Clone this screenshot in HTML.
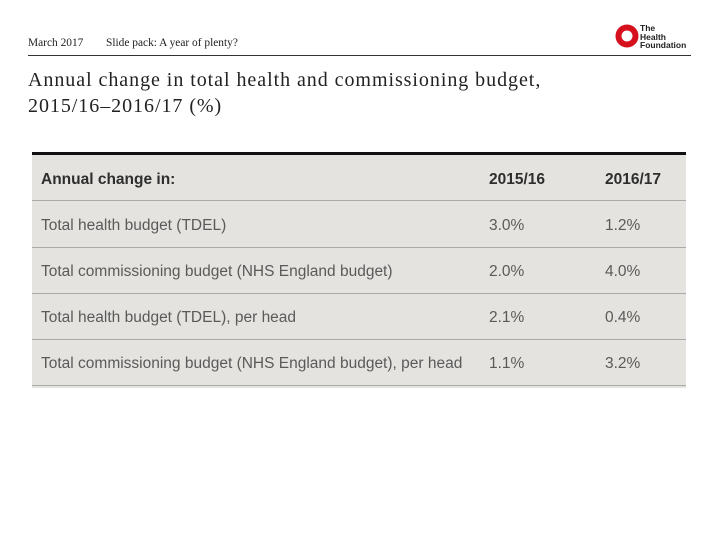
<!DOCTYPE html>
<html><head><meta charset="utf-8"><style>
body{margin:0;width:720px;height:540px;background:#fff;position:relative;overflow:hidden;font-family:"Liberation Sans",sans-serif}
.hdr{position:absolute;top:37px;font-family:"Liberation Serif",serif;font-size:11.4px;color:#222}
.title{position:absolute;left:28px;top:67px;font-family:"Liberation Serif",serif;font-size:20px;line-height:26px;letter-spacing:0.95px;color:#222}
.rule{position:absolute;left:28px;top:55px;width:663px;height:1px;background:#333}
.table{position:absolute;left:32px;top:152px;width:654px;height:233px;background:#e4e3df;border-top:3px solid #111}
.row{position:absolute;left:0;width:654px;height:46px;border-bottom:1.5px solid #a9a9a7;font-size:15.5px;color:#5a5a5a}
.row span{position:absolute;top:16px}
.row.h{color:#2e2e2e;font-weight:bold}
.c0{left:9px}.c1{left:457px}.c2{left:573px}
</style></head><body>
<div class="hdr" style="left:28px">March 2017</div>
<div class="hdr" style="left:106px">Slide pack: A year of plenty?</div>
<div style="position:absolute;left:615px;top:24px;width:90px;height:26px">
<svg width="26" height="26" style="position:absolute;left:0;top:0"><circle cx="12" cy="12" r="8.5" fill="none" stroke="#d7101e" stroke-width="6"/></svg>
<div style="position:absolute;left:25px;top:0;font-size:8.5px;line-height:8.5px;font-weight:bold;color:#222">The<br>Health<br>Foundation</div>
</div>
<div class="rule"></div>
<div class="title">Annual change in total health and commissioning budget,<br>2015/16–2016/17 (%)</div>
<div class="table">
<div class="row h" style="top:0;height:45px"><span class="c0">Annual change in:</span><span class="c1">2015/16</span><span class="c2">2016/17</span></div>
<div class="row" style="top:46px"><span class="c0">Total health budget (TDEL)</span><span class="c1">3.0%</span><span class="c2">1.2%</span></div>
<div class="row" style="top:92px"><span class="c0">Total commissioning budget (NHS England budget)</span><span class="c1">2.0%</span><span class="c2">4.0%</span></div>
<div class="row" style="top:138px"><span class="c0">Total health budget (TDEL), per head</span><span class="c1">2.1%</span><span class="c2">0.4%</span></div>
<div class="row" style="top:184px"><span class="c0">Total commissioning budget (NHS England budget), per head</span><span class="c1">1.1%</span><span class="c2">3.2%</span></div>
</div>
</body></html>
